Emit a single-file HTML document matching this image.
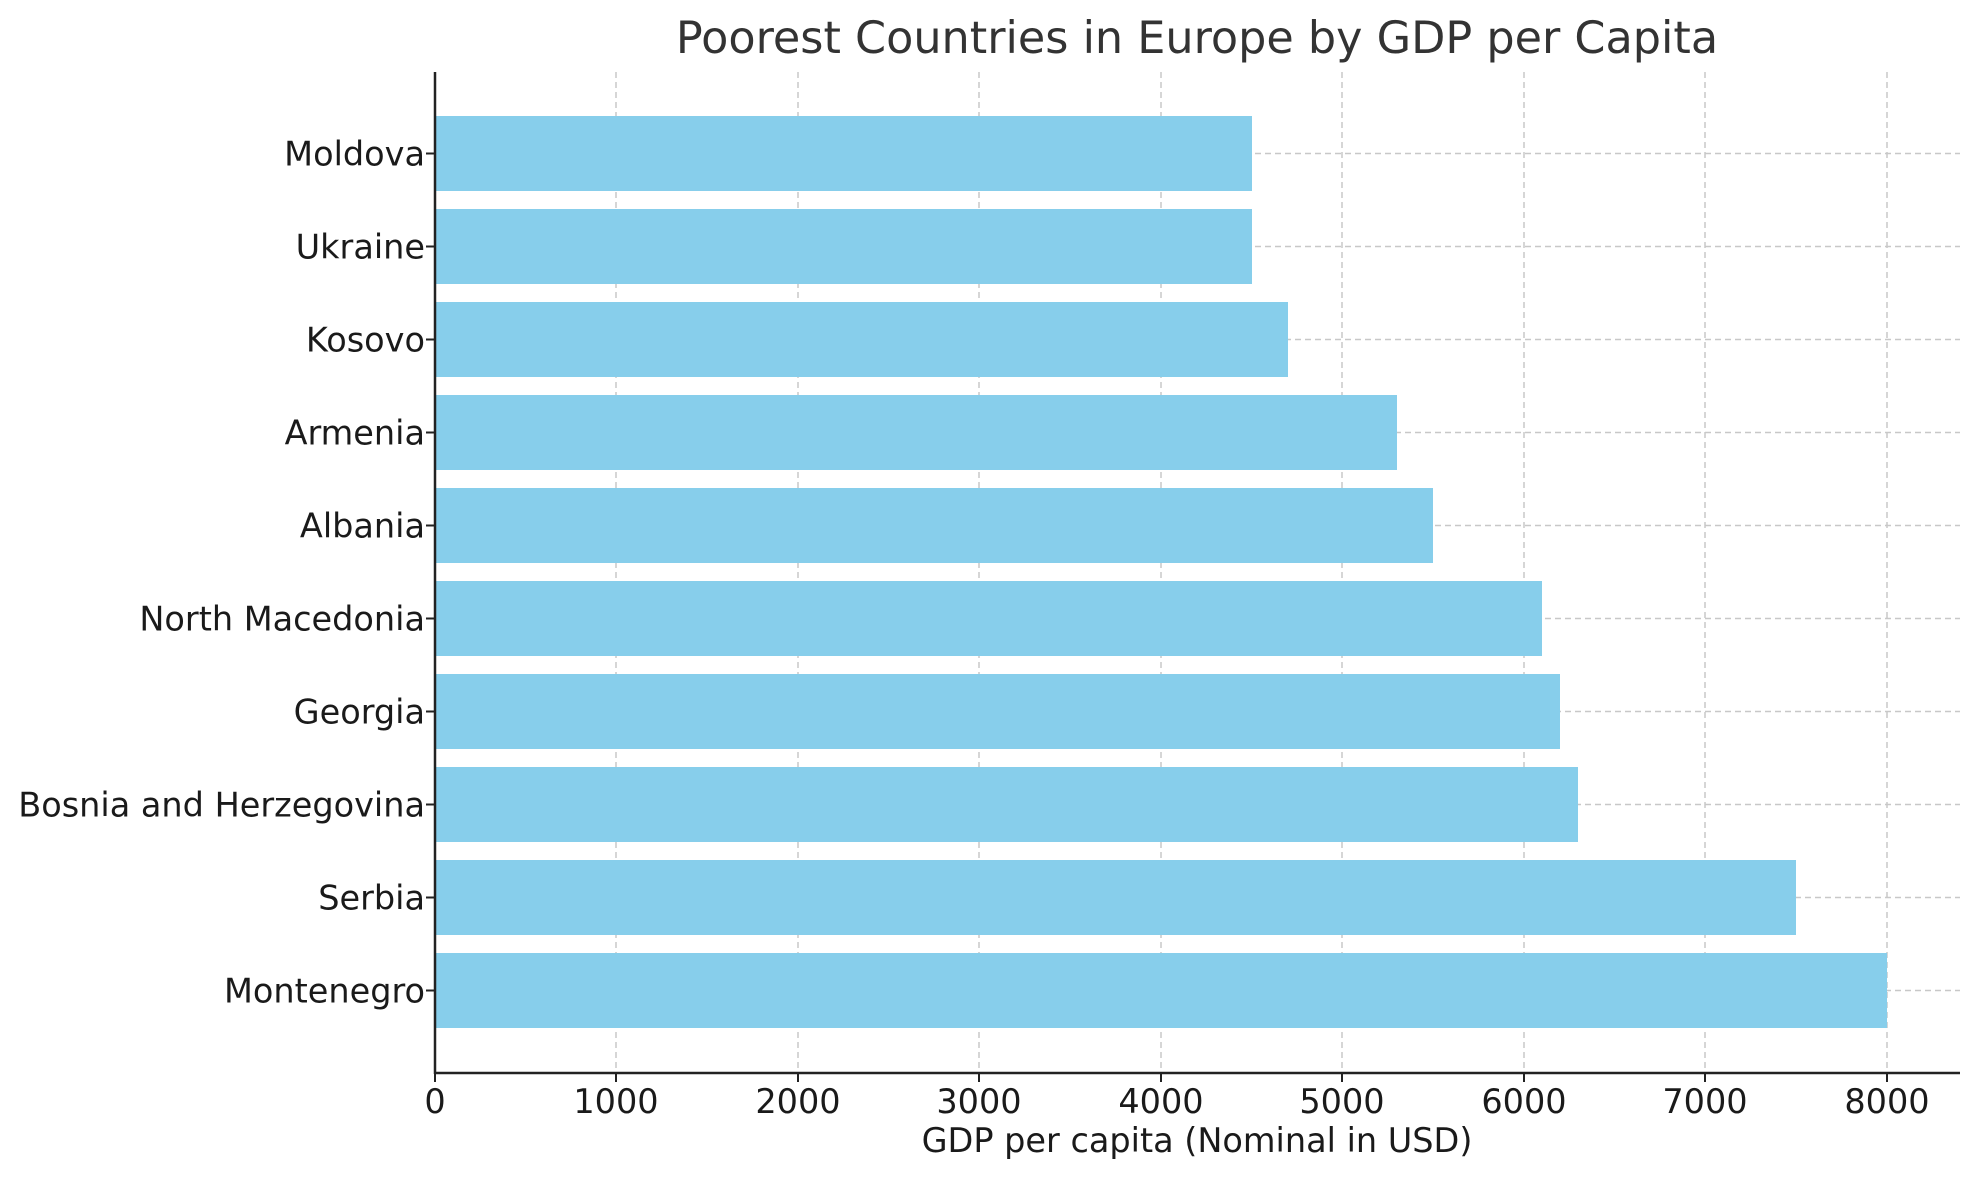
<!DOCTYPE html>
<html><head><meta charset="utf-8"><style>html,body{margin:0;padding:0;background:#fff}</style></head>
<body>
<svg width="1979" height="1180" xmlns="http://www.w3.org/2000/svg" font-family="DejaVu Sans, Liberation Sans, sans-serif">
<rect width="1979" height="1180" fill="#fff"/>
<g stroke="#c8c8c8" stroke-width="1.5" stroke-dasharray="6,4">
<line x1="616" y1="72" x2="616" y2="1073"/><line x1="798" y1="72" x2="798" y2="1073"/><line x1="979" y1="72" x2="979" y2="1073"/><line x1="1161" y1="72" x2="1161" y2="1073"/><line x1="1342" y1="72" x2="1342" y2="1073"/><line x1="1524" y1="72" x2="1524" y2="1073"/><line x1="1705" y1="72" x2="1705" y2="1073"/><line x1="1887" y1="72" x2="1887" y2="1073"/>
<line x1="435" y1="153.5" x2="1960" y2="153.5"/><line x1="435" y1="246.5" x2="1960" y2="246.5"/><line x1="435" y1="339.5" x2="1960" y2="339.5"/><line x1="435" y1="432.5" x2="1960" y2="432.5"/><line x1="435" y1="525.5" x2="1960" y2="525.5"/><line x1="435" y1="618.5" x2="1960" y2="618.5"/><line x1="435" y1="711.5" x2="1960" y2="711.5"/><line x1="435" y1="804.5" x2="1960" y2="804.5"/><line x1="435" y1="897.5" x2="1960" y2="897.5"/><line x1="435" y1="990.5" x2="1960" y2="990.5"/>
</g>
<g fill="#87ceeb">
<rect x="435" y="116" width="817" height="75"/>
<rect x="435" y="209" width="817" height="75"/>
<rect x="435" y="302" width="853" height="75"/>
<rect x="435" y="395" width="962" height="75"/>
<rect x="435" y="488" width="998" height="75"/>
<rect x="435" y="581" width="1107" height="75"/>
<rect x="435" y="674" width="1125" height="75"/>
<rect x="435" y="767" width="1143" height="75"/>
<rect x="435" y="860" width="1361" height="75"/>
<rect x="435" y="953" width="1452" height="75"/>
</g>
<g stroke="#222" stroke-width="2.5">
<line x1="435" y1="72" x2="435" y2="1074"/><line x1="434" y1="1073" x2="1960" y2="1073"/>
</g>
<g stroke="#222" stroke-width="2">
<line x1="435" y1="1073" x2="435" y2="1082"/><line x1="616" y1="1073" x2="616" y2="1082"/><line x1="798" y1="1073" x2="798" y2="1082"/><line x1="979" y1="1073" x2="979" y2="1082"/><line x1="1161" y1="1073" x2="1161" y2="1082"/><line x1="1342" y1="1073" x2="1342" y2="1082"/><line x1="1524" y1="1073" x2="1524" y2="1082"/><line x1="1705" y1="1073" x2="1705" y2="1082"/><line x1="1887" y1="1073" x2="1887" y2="1082"/>
<line x1="426" y1="153.5" x2="435" y2="153.5"/><line x1="426" y1="246.5" x2="435" y2="246.5"/><line x1="426" y1="339.5" x2="435" y2="339.5"/><line x1="426" y1="432.5" x2="435" y2="432.5"/><line x1="426" y1="525.5" x2="435" y2="525.5"/><line x1="426" y1="618.5" x2="435" y2="618.5"/><line x1="426" y1="711.5" x2="435" y2="711.5"/><line x1="426" y1="804.5" x2="435" y2="804.5"/><line x1="426" y1="897.5" x2="435" y2="897.5"/><line x1="426" y1="990.5" x2="435" y2="990.5"/>
</g>
<g fill="#1a1a1a" font-size="33.5" text-anchor="middle">
<text x="435" y="1113">0</text><text x="616" y="1113">1000</text><text x="798" y="1113">2000</text><text x="979" y="1113">3000</text><text x="1161" y="1113">4000</text><text x="1342" y="1113">5000</text><text x="1524" y="1113">6000</text><text x="1705" y="1113">7000</text><text x="1887" y="1113">8000</text>
</g>
<g fill="#1a1a1a" font-size="33.5" text-anchor="end">
<text x="425" y="165.5">Moldova</text><text x="425" y="258.5">Ukraine</text><text x="425" y="351.5">Kosovo</text><text x="425" y="444.5">Armenia</text><text x="425" y="537.5">Albania</text><text x="425" y="630.5">North Macedonia</text><text x="425" y="723.5">Georgia</text><text x="425" y="816.5">Bosnia and Herzegovina</text><text x="425" y="909.5">Serbia</text><text x="425" y="1002.5">Montenegro</text>
</g>
<text x="1197" y="1152" font-size="33.5" fill="#1a1a1a" text-anchor="middle">GDP per capita (Nominal in USD)</text>
<text x="1197" y="53" font-size="44.5" fill="#333" text-anchor="middle">Poorest Countries in Europe by GDP per Capita</text>
</svg>
</body></html>
